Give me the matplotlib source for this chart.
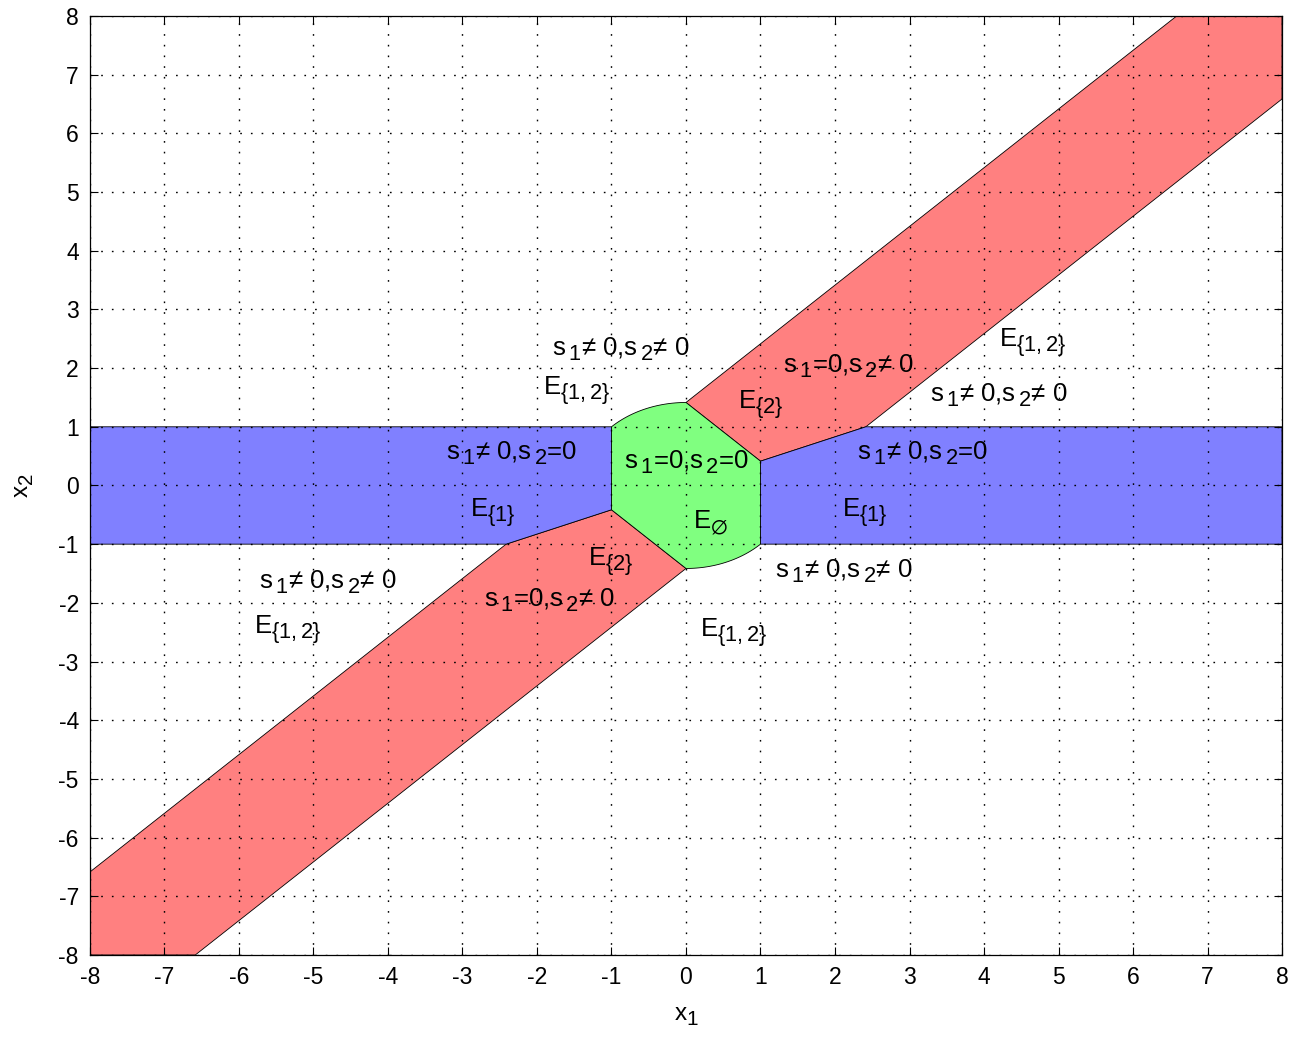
import numpy as np
import matplotlib
matplotlib.use("Agg")
import matplotlib.pyplot as plt
from matplotlib.patches import Polygon
try:
    import matplotlib._mathtext as _mt
    _mt.SHRINK_FACTOR = 0.85
    _mt.FontConstantsBase.sub1 = 0.42
    _mt.FontConstantsBase.sub2 = 0.55
except Exception:
    pass

plt.rcParams['font.family'] = ['Liberation Sans', 'DejaVu Sans']
plt.rcParams['mathtext.fontset'] = 'custom'
plt.rcParams['mathtext.rm'] = 'Liberation Sans'
plt.rcParams['mathtext.it'] = 'Liberation Sans'
plt.rcParams['mathtext.bf'] = 'Liberation Sans:bold'
plt.rcParams['mathtext.default'] = 'regular'
plt.rcParams['axes.unicode_minus'] = False

R = 1.4142  # sqrt(2)

# Region vertices (data coordinates)
red_upper = [(0, R), (8 - R, 8), (8, 8), (8, 8 - R), (1 + R, 1), (1, R - 1)]
red_lower = [(0, -R), (-8 + R, -8), (-8, -8), (-8, -8 + R), (-1 - R, -1), (-1, 1 - R)]
blue_right = [(1, R - 1), (1 + R, 1), (8, 1), (8, -1), (1, -1)]
blue_left = [(-1, 1 - R), (-1 - R, -1), (-8, -1), (-8, 1), (-1, 1)]
arc_top_deg = (135, 90)
arc_bot_deg = (-45, -90)

S1 = r'$s_{\,1}$'
S2 = r'$s_{\,2}$'
NN = S1 + '≠ 0,' + S2 + '≠ 0'
ZN = S1 + '=0,' + S2 + '≠ 0'
NZ = S1 + '≠ 0,' + S2 + '=0'
ZZ = S1 + '=0,' + S2 + '=0'
E12 = r'$E_{\{1,2\}}$'
E1 = r'$E_{\{1\}}$'
E2 = r'$E_{\{2\}}$'
E0 = r'$E_{\varnothing}$'

labels = [
    (-1.8, 2.33, NN),
    (-1.92, 1.6, E12),
    (1.3, 2.03, ZN),
    (4.2, 2.43, E12),
    (3.28, 1.54, NN),
    (0.7, 1.37, E2),
    (-3.22, 0.55, NZ),
    (-0.83, 0.40, ZZ),
    (2.3, 0.55, NZ),
    (-2.9, -0.47, E1),
    (0.1, -0.64, E0),
    (2.09, -0.47, E1),
    (-5.73, -1.64, NN),
    (-1.32, -1.30, E2),
    (-2.71, -1.95, ZN),
    (1.19, -1.46, NN),
    (-5.8, -2.46, E12),
    (0.19, -2.51, E12),
]

ticks = list(range(-8, 9))

RED = (1.0, 0.5, 0.5)
BLUE = (0.5, 0.5, 1.0)
GREEN = (0.5, 1.0, 0.5)

fig = plt.figure(figsize=(12.98, 10.38), dpi=100)
ax = fig.add_axes([0.0693, 0.080, 0.9184, 0.9046])

for verts, col in [(red_upper, RED), (red_lower, RED), (blue_right, BLUE), (blue_left, BLUE)]:
    ax.add_patch(Polygon(verts, closed=True, facecolor=col, edgecolor='black', linewidth=0.6, zorder=1))

t1 = np.radians(np.linspace(arc_top_deg[0], arc_top_deg[1], 40))
t2 = np.radians(np.linspace(arc_bot_deg[0], arc_bot_deg[1], 40))
green = [(-1, 1 - R)] + [(-1, 1)] + list(zip(R * np.cos(t1), R * np.sin(t1))) + \
        [(1, R - 1), (1, -1)] + list(zip(R * np.cos(t2), R * np.sin(t2)))
ax.add_patch(Polygon(green, closed=True, facecolor=GREEN, edgecolor='black', linewidth=0.6, zorder=1))

for x, y, s in labels:
    ax.text(x, y, s, fontsize=18.5, ha='left', va='center', zorder=4)

ax.set_xlim(-8, 8)
ax.set_ylim(-8, 8)
ax.set_xticks(ticks)
ax.set_yticks(ticks)
ax.set_axisbelow(False)
ax.grid(True, color='black', linestyle=(0, (1.2, 6.5)), linewidth=1.0, zorder=3)
ax.tick_params(direction='in', length=6, width=0.8, top=True, right=True,
               labelsize=16.5, pad=8)
for sp in ax.spines.values():
    sp.set_linewidth(0.9)
    sp.set_zorder(5)
ax.set_xlabel(r'$x_1$', fontsize=17.5, labelpad=12)
ax.set_ylabel(r'$x_2$', fontsize=17.5, labelpad=16)

fig.savefig('out.png', dpi=100)
